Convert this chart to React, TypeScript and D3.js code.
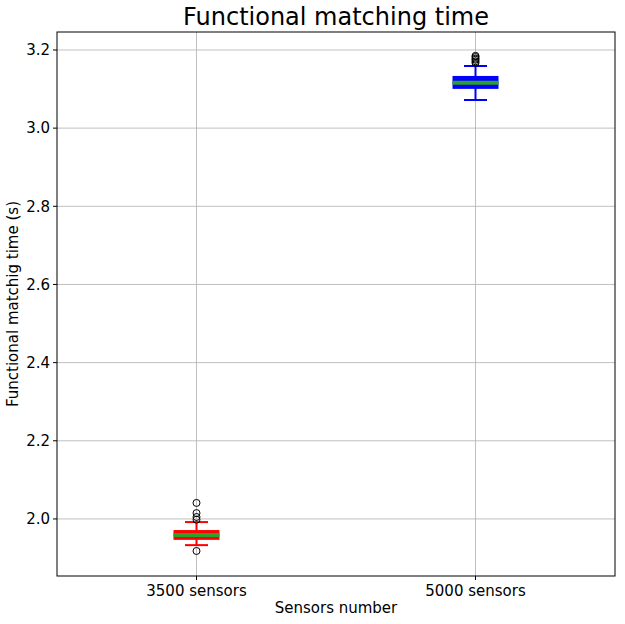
import * as d3 from 'd3'

const categories = ['3500 sensors', '5000 sensors']
const colors = ['red', 'blue']
const q1 = [1.949, 3.103]
const medians = [1.959, 3.116]
const q3 = [1.969, 3.131]
const whiskLo = [1.933, 3.072]
const whiskHi = [1.992, 3.159]
const fliers = [
  [2.041, 2.015, 2.005, 1.998, 1.918],
  [3.167, 3.171, 3.175, 3.178, 3.182, 3.185],
]
const yTicks = [2.0, 2.2, 2.4, 2.6, 2.8, 3.0, 3.2]

const W = 625
const H = 624
const m = { left: 57, right: 10, top: 32, bottom: 48 }

export default function App() {
  const x = d3.scaleLinear().domain([0.5, 2.5]).range([m.left, W - m.right])
  const y = d3.scaleLinear().domain([1.854, 3.246]).range([H - m.bottom, m.top])
  const font = 'DejaVu Sans, sans-serif'
  const bw = 44
  const cw = 23
  return (
    <svg width={W} height={H} style={{ position: 'absolute', left: 0, top: 0 }} fontFamily={font}>
      <rect width={W} height={H} fill="white" />
      {yTicks.map((t) => (
        <g key={t}>
          <line x1={m.left} x2={W - m.right} y1={y(t)} y2={y(t)} stroke="#b0b0b0" strokeWidth={0.8} />
          <line x1={m.left - 4} x2={m.left} y1={y(t)} y2={y(t)} stroke="black" />
          <text x={m.left - 7} y={y(t)} dy="0.35em" textAnchor="end" fontSize={15}>{t.toFixed(1)}</text>
        </g>
      ))}
      {categories.map((c, i) => (
        <g key={c}>
          <line x1={x(i + 1)} x2={x(i + 1)} y1={m.top} y2={H - m.bottom} stroke="#b0b0b0" strokeWidth={0.8} />
          <line x1={x(i + 1)} x2={x(i + 1)} y1={H - m.bottom} y2={H - m.bottom + 4} stroke="black" />
          <text x={x(i + 1)} y={H - m.bottom + 20} textAnchor="middle" fontSize={15}>{c}</text>
        </g>
      ))}
      {categories.map((c, i) => {
        const cx = x(i + 1)
        const col = colors[i]
        return (
          <g key={'b' + c}>
            <line x1={cx} x2={cx} y1={y(whiskHi[i])} y2={y(q3[i])} stroke={col} strokeWidth={2} />
            <line x1={cx} x2={cx} y1={y(q1[i])} y2={y(whiskLo[i])} stroke={col} strokeWidth={2} />
            <line x1={cx - cw / 2} x2={cx + cw / 2} y1={y(whiskHi[i])} y2={y(whiskHi[i])} stroke={col} strokeWidth={2} />
            <line x1={cx - cw / 2} x2={cx + cw / 2} y1={y(whiskLo[i])} y2={y(whiskLo[i])} stroke={col} strokeWidth={2} />
            <rect x={cx - bw / 2} y={y(q3[i])} width={bw} height={y(q1[i]) - y(q3[i])} fill={col} stroke={col} strokeWidth={2} />
            <line x1={cx - bw / 2 - 1} x2={cx + bw / 2 + 1} y1={y(medians[i])} y2={y(medians[i])} stroke="#2ca02c" strokeWidth={4} />
            {fliers[i].map((f, j) => (
              <circle key={j} cx={cx} cy={y(f)} r={3.5} fill="none" stroke="black" strokeWidth={1} />
            ))}
          </g>
        )
      })}
      <rect x={m.left} y={m.top} width={W - m.left - m.right} height={H - m.top - m.bottom} fill="none" stroke="black" strokeWidth={1} />
      <text x={(m.left + W - m.right) / 2} y={25} textAnchor="middle" fontSize={24}>Functional matching time</text>
      <text x={(m.left + W - m.right) / 2} y={613} textAnchor="middle" fontSize={15}>Sensors number</text>
      <text transform={`translate(18,${(m.top + H - m.bottom) / 2}) rotate(-90)`} textAnchor="middle" fontSize={15}>Functional matchig time (s)</text>
    </svg>
  )
}
